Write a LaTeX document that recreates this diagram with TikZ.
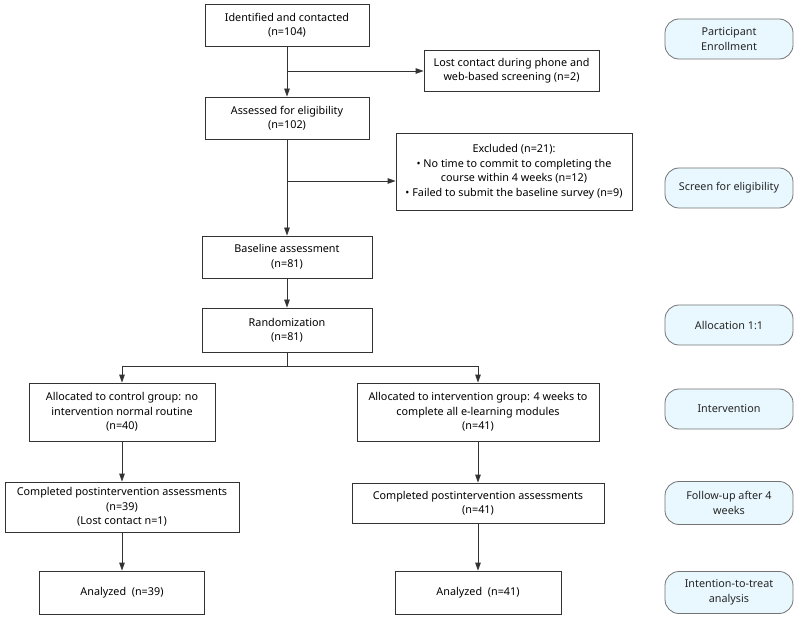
\documentclass[tikz,border=0pt]{standalone}
\usepackage{fontspec}
\setmainfont{Noto Sans}
\usetikzlibrary{arrows.meta}
\begin{document}
\begin{tikzpicture}[x=1pt,y=-1pt,
  font=\fontsize{10.8pt}{14.5pt}\selectfont,
  box/.style={draw=black!80, line width=0.8pt, align=center, inner sep=2pt, fill=white},
  pill/.style={draw=black!55, line width=0.8pt, fill=cyan!9, rounded corners=14pt, align=center,
    minimum width=128pt, minimum height=40pt, inner sep=2pt, text=black!85},
  arr/.style={-{Triangle[length=8pt,width=5.5pt]}, line width=0.8pt, draw=black!80},
  ln/.style={line width=0.8pt, draw=black!80}]
\path[use as bounding box, fill=white] (0,0) rectangle (800,617);

\node[box, minimum width=164pt, minimum height=42pt] (b1) at (287,25) {Identified and contacted\\(n=104)};
\node[box, minimum width=175pt, minimum height=41pt] (lost) at (511.5,70.5) {Lost contact during phone and\\web-based screening (n=2)};
\node[box, minimum width=164pt, minimum height=42pt] (b2) at (287,118) {Assessed for eligibility\\(n=102)};
\node[box, minimum width=236pt, minimum height=77pt] (excl) at (514,171.5) {Excluded (n=21):\\\textbullet{} No time to commit to completing the\\course within 4 weeks (n=12)\\\textbullet{} Failed to submit the baseline survey (n=9)};
\node[box, minimum width=170pt, minimum height=42pt] (base) at (287,257) {Baseline assessment\\(n=81)};
\node[box, minimum width=170pt, minimum height=44pt] (rand) at (287,330) {Randomization\\(n=81)};
\node[box, minimum width=186pt, minimum height=58pt] (ctrl) at (122,412) {Allocated to control group: no\\intervention normal routine\\(n=40)};
\node[box, minimum width=242pt, minimum height=58pt] (intv) at (478,412) {Allocated to intervention group: 4 weeks to\\complete all e-learning modules\\(n=41)};
\node[box, minimum width=234pt, minimum height=50pt] (comp1) at (122,507) {Completed postintervention assessments\\(n=39)\\(Lost contact n=1)};
\node[box, minimum width=252pt, minimum height=40pt] (comp2) at (478,503) {Completed postintervention assessments\\(n=41)};
\node[box, minimum width=165pt, minimum height=43pt] (an1) at (122,592.5) {Analyzed\ \ (n=39)};
\node[box, minimum width=166pt, minimum height=43pt] (an2) at (478,592.5) {Analyzed\ \ (n=41)};

\node[pill] (p1) at (729,39) {Participant\\Enrollment};
\node[pill] (p2) at (729,188) {Screen for eligibility};
\node[pill] (p3) at (729,325) {Allocation 1:1};
\node[pill] (p4) at (729,409) {Intervention};
\node[pill, minimum height=43pt] (p5) at (729,503) {Follow-up after 4\\weeks};
\node[pill, minimum height=42pt] (p6) at (729,592.5) {Intention-to-treat\\analysis};

\coordinate (j1) at (287,71);
\coordinate (j2) at (287,181);
\coordinate (j3) at (287,366);
\draw[arr] (b1.south) -- (b2.north);
\draw[arr] (j1) -- (j1 -| lost.west);
\draw[arr] (b2.south) -- (base.north);
\draw[arr] (j2) -- (j2 -| excl.west);
\draw[arr] (base.south) -- (rand.north);
\draw[ln] (rand.south) -- (j3);
\draw[arr] (j3) -| (ctrl.north);
\draw[arr] (j3) -| (intv.north);
\draw[arr] (ctrl.south) -- (comp1.north);
\draw[arr] (intv.south) -- (comp2.north);
\draw[arr] (comp1.south) -- (an1.north);
\draw[arr] (comp2.south) -- (an2.north);
\end{tikzpicture}
\end{document}
